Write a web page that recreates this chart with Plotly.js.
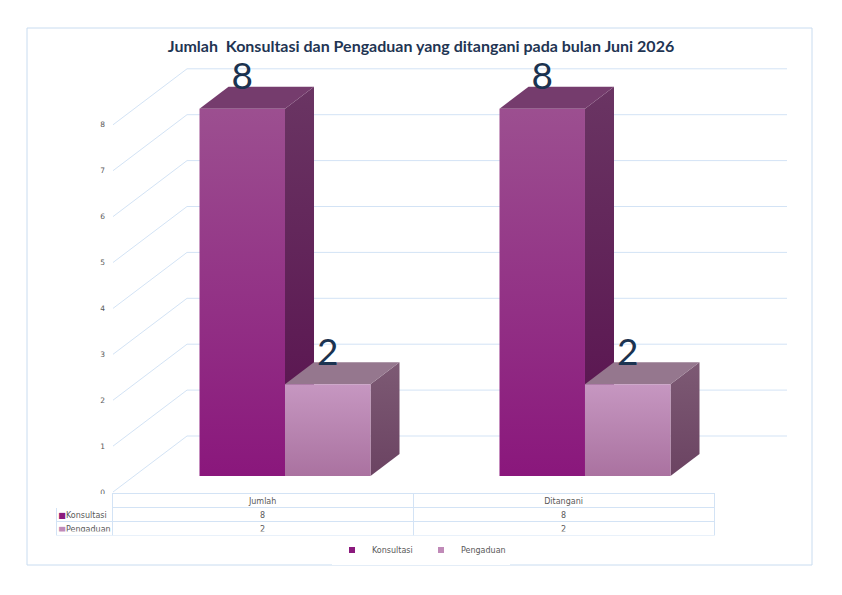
<!DOCTYPE html>
<html>
<head>
<meta charset="utf-8">
<script src="https://cdn.plot.ly/plotly-3.0.1.min.js"></script>
<style>
  html, body { margin: 0; padding: 0; background: #fff; }
  #chart { width: 842px; height: 595px; }
</style>
</head>
<body>
<div id="chart"></div>
<script>
// data
let categories = ['Jumlah', 'Ditangani'];
let seriesNames = ['Konsultasi', 'Pengaduan'];
let konsultasi = [8, 8];
let pengaduan = [2, 2];
let yTicks = [0, 1, 2, 3, 4, 5, 6, 7, 8];

// fake 3d: depth of the floor/back wall and of the bars, in axis units
let DX = 0.2467, DY = 1.22;     // front plane -> back wall
let sx = 0.0733, sy = 0.3486;   // front plane -> bar front
let bx = 0.0967, by = 0.479;    // bar depth
let w = 0.285;                  // bar width

let colors = {
    Konsultasi: { main: '#8b1a7d', front: ['#8a177c', '#9c4f90'], side: ['#570f4d', '#6a3563'], top: '#753c6d' },
    Pengaduan: { main: '#c08ab8', front: ['#aa72a0', '#c697c1'], side: ['#6b4362', '#7d5a74'], top: '#95778e' }
};
let gridColor = '#d3e3f5';
let textColor = '#595959';
let clear = 'rgba(0,0,0,0)';

traces = [];

// grid lines: diagonal on the side wall, then along the back wall
let gx = [], gy = [];
yTicks.forEach(v => {
    gx.push(-0.5, -0.5 + DX, categories.length - 0.5 + DX, null);
    gy.push(v, v + DY, v + DY, null);
});
traces.push({ x: gx, y: gy, type: 'scatter', mode: 'lines', line: { color: gridColor, width: 1 },
    hoverinfo: 'skip', showlegend: false });

function face(xs, ys, c) {
    let t = { x: xs, y: ys, type: 'scatter', mode: 'lines', fill: 'toself', line: { width: 0 },
        hoverinfo: 'skip', showlegend: false };
    if (Array.isArray(c)) t.fillgradient = { type: 'vertical', colorscale: [[0, c[0]], [1, c[1]]] };
    else t.fillcolor = c;
    return t;
}

let allValues = [konsultasi, pengaduan];
let labelX = [], labelY = [], labelT = [];

categories.forEach((cat, i) => {
    seriesNames.forEach((name, s) => {
        let v = allValues[s][i];
        let col = colors[name];
        let x0 = i - w + s * w + sx, x1 = x0 + w;
        let y0 = sy, y1 = v + sy;
        // side, top, front
        traces.push(face([x1, x1, x1 + bx, x1 + bx, x1], [y0, y1, y1 + by, y0 + by, y0], col.side));
        traces.push(face([x0, x1, x1 + bx, x0 + bx, x0], [y1, y1, y1 + by, y1 + by, y1], col.top));
        traces.push(face([x0, x1, x1, x0, x0], [y0, y0, y1, y1, y0], col.front));
        labelX.push((x0 + x1) / 2);
        labelY.push(y1 + 0.63);
        labelT.push(String(v));
    });
});

traces.push({ x: labelX, y: labelY, text: labelT, type: 'scatter', mode: 'text', textposition: 'middle center',
    textfont: { family: 'Lato', size: 37, color: '#1b3350' }, hoverinfo: 'skip', showlegend: false });

// legend entries only (small squares)
seriesNames.forEach(name => {
    traces.push({ x: [null], y: [null], type: 'scatter', mode: 'markers', name: name,
        marker: { symbol: 'square', size: 6, color: colors[name].main }, hoverinfo: 'skip' });
});

// data table under the chart, in three layers:
// grid only, then the texts (a bit higher, table text sits low in its row), then the colour keys
let tableFont = { family: 'DejaVu Sans', size: 8, color: textColor };
let px = v => v / 842, py = v => 1 - v / 595;
let lift = 4;
let colValues = categories.map((c, i) => allValues.map(a => a[i]));

traces.push({
    type: 'table',
    domain: { x: [px(56), px(714)], y: [py(536), py(493.5)] },
    columnwidth: [56, 300, 300],
    header: { values: ['', '', ''], height: 14, fill: { color: 'white' },
        line: { color: [clear, gridColor, gridColor], width: 1 } },
    cells: { values: [seriesNames.map(() => '')].concat(colValues.map(c => c.map(() => ''))), height: 14,
        fill: { color: 'white' }, line: { color: gridColor, width: 1 } }
});
traces.push({
    type: 'table',
    domain: { x: [px(58), px(714)], y: [py(536 - lift), py(493.5 - lift)] },
    columnwidth: [54, 300, 300],
    header: { values: [''].concat(categories), height: 14, align: 'center',
        fill: { color: clear }, line: { color: clear, width: 0 }, font: tableFont },
    cells: { values: [seriesNames].concat(colValues), height: 14, align: ['left', 'center', 'center'],
        fill: { color: clear }, line: { color: clear, width: 0 }, font: tableFont }
});
traces.push({
    type: 'table',
    domain: { x: [px(56.5), px(67.5)], y: [py(536 - lift), py(493.5 - lift)] },
    header: { values: [''], height: 14, fill: { color: clear }, line: { color: clear, width: 0 } },
    cells: { values: [seriesNames.map(() => '■')], height: 14, align: 'center',
        fill: { color: clear }, line: { color: clear, width: 0 },
        font: { family: 'DejaVu Sans', size: 8, color: [seriesNames.map(n => colors[n].main)] } }
});

let layout = {
    width: 842, height: 595,
    margin: { l: 0, r: 0, t: 0, b: 0 },
    paper_bgcolor: 'white', plot_bgcolor: 'rgba(0,0,0,0)',
    title: {
        text: 'Jumlah&nbsp; Konsultasi dan Pengaduan yang ditangani pada bulan Juni 2026',
        x: 0.5, xanchor: 'center', y: 1 - 46 / 595, yanchor: 'middle',
        font: { family: 'Lato', size: 16, weight: 'bold', color: '#1f3553' }
    },
    xaxis: { range: [-0.8767, 1.93], visible: false, fixedrange: true },
    yaxis: {
        range: [-2.244, 10.719], anchor: 'free', position: 113 / 842, side: 'left',
        tickvals: yTicks, ticks: '', ticklabelstandoff: 8,
        showgrid: false, zeroline: false, showline: false, fixedrange: true,
        tickfont: { family: 'DejaVu Sans', size: 7.5, color: textColor }
    },
    showlegend: true,
    legend: {
        orientation: 'h', x: 0.5, xanchor: 'center', y: 1 - 550 / 595, yanchor: 'middle',
        itemwidth: 30, entrywidth: 44, entrywidthmode: 'pixels',
        font: { family: 'DejaVu Sans', size: 8, color: textColor }
    },
    shapes: [{
        type: 'rect', xref: 'paper', yref: 'paper',
        x0: 27 / 842, x1: 812 / 842, y0: 1 - 565 / 595, y1: 1 - 28 / 595,
        line: { color: '#c9dcf0', width: 1 }
    }]
};

Plotly.newPlot('chart', traces, layout, { displayModeBar: false, staticPlot: true });
</script>
</body>
</html>
